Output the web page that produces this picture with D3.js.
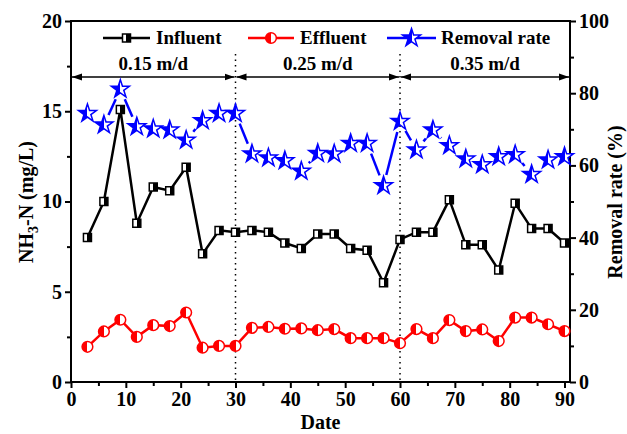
<!DOCTYPE html>
<html><head><meta charset="utf-8">
<script src="https://cdn.jsdelivr.net/npm/d3@7"></script>
<style>body{margin:0;background:#fff}svg{display:block}text{font-family:"Liberation Serif","Times New Roman",serif;font-weight:bold}</style>
</head><body><svg id="c" width="627" height="434"></svg>
<script>
const days = [3,6,9,12,15,18,21,24,27,30,33,36,39,42,45,48,51,54,57,60,63,66,69,72,75,78,81,84,87,90];
const influent = [8.0,10.0,15.1,8.8,10.8,10.6,11.9,7.1,8.4,8.3,8.4,8.3,7.7,7.4,8.2,8.2,7.4,7.3,5.5,7.9,8.3,8.3,10.1,7.6,7.6,6.2,9.9,8.5,8.5,7.7];
const effluent = [1.95,2.8,3.45,2.5,3.15,3.1,3.85,1.9,2.0,2.0,3.0,3.05,2.95,2.97,2.87,2.93,2.43,2.43,2.43,2.15,2.93,2.43,3.43,2.82,2.91,2.27,3.57,3.57,3.2,2.82];
const removal = [74.4,71.2,81.1,70.7,70.1,69.8,67.0,72.4,74.4,74.4,63.2,62.1,61.3,58.4,63.3,63.2,66.1,66.1,54.4,72.2,64.3,69.8,65.5,61.8,60.2,62.4,63.0,57.5,61.5,62.4];
const xTicks = [0,10,20,30,40,50,60,70,80,90];
const yTicks = [0,5,10,15,20];
const y2Ticks = [0,20,40,60,80,100];
const periods = [{a:0,b:30,label:"0.15 m/d"},{a:30,b:60,label:"0.25 m/d"},{a:60,b:91,label:"0.35 m/d"}];
const dividers = [30,60];

const svg = d3.select("#c");
const L=71,R=570,T=21,B=382;
const x = d3.scaleLinear().domain([0,91]).range([L,R]);
const y = d3.scaleLinear().domain([0,20]).range([B,T]);
const y2 = d3.scaleLinear().domain([0,100]).range([B,T]);

const defs = svg.append("defs");
function grad(id, left, right){
  const g = defs.append("linearGradient").attr("id",id).attr("x1",0).attr("x2",1).attr("y1",0).attr("y2",0);
  g.append("stop").attr("offset","50%").attr("stop-color",left);
  g.append("stop").attr("offset","50%").attr("stop-color",right);
}
grad("gSq","#fff","#000"); grad("gCi","#f00","#fff"); grad("gSt","#00f","#fff");
defs.append("marker").attr("id","arr").attr("viewBox","0 0 10 10").attr("refX",10).attr("refY",5)
  .attr("markerWidth",10).attr("markerHeight",10).attr("markerUnits","userSpaceOnUse").attr("orient","auto-start-reverse")
  .append("path").attr("d","M0,1.5L10,5L0,8.5Z").attr("fill","#000");

// frame
svg.append("rect").attr("x",L).attr("y",T).attr("width",R-L).attr("height",B-T).attr("fill","none").attr("stroke","#000").attr("stroke-width",2);

// axes
svg.append("g").attr("transform",`translate(0,${B})`)
  .call(d3.axisBottom(x).tickValues(xTicks).tickSize(6).tickPadding(4).tickFormat(d3.format("d")));
svg.append("g").attr("transform",`translate(0,${B})`).call(d3.axisBottom(x).tickValues(d3.range(5,91,10)).tickSize(4).tickFormat(""));
svg.append("g").attr("transform",`translate(${L},0)`).call(d3.axisLeft(y).tickValues(yTicks).tickSize(6).tickPadding(3));
svg.append("g").attr("transform",`translate(${L},0)`).call(d3.axisLeft(y).tickValues([2.5,7.5,12.5,17.5]).tickSize(4).tickFormat(""));
svg.append("g").attr("transform",`translate(${R},0)`).call(d3.axisRight(y2).tickValues(y2Ticks).tickSize(6).tickPadding(3));
svg.append("g").attr("transform",`translate(${R},0)`).call(d3.axisRight(y2).tickValues([10,30,50,70,90]).tickSize(4).tickFormat(""));
svg.selectAll(".domain").remove();
svg.selectAll(".tick line").attr("stroke","#000").attr("stroke-width",2);
svg.selectAll(".tick text").attr("fill","#000").style("font-size","20px").style("font-family","Liberation Serif").style("font-weight","bold");

// titles
svg.append("text").attr("x",(L+R)/2).attr("y",429).attr("text-anchor","middle").style("font-size","20px").text("Date");
const lt = svg.append("text").attr("transform","translate(33,202) rotate(-90)").attr("text-anchor","middle").style("font-size","20px");
lt.append("tspan").text("NH");
lt.append("tspan").attr("dy",5).style("font-size","14px").text("3");
lt.append("tspan").attr("dy",-5).text("-N (mg/L)");
svg.append("text").attr("transform","translate(622,202) rotate(-90)").attr("text-anchor","middle").style("font-size","20px").text("Removal rate (%)");

// dividers
dividers.forEach(d=>{
  svg.append("line").attr("x1",x(d)).attr("x2",x(d)).attr("y1",54).attr("y2",B).attr("stroke","#000").attr("stroke-width",1.5).attr("stroke-dasharray","1.5,4");
});
// period arrows
periods.forEach(p=>{
  svg.append("line").attr("x1",x(p.a)+1).attr("x2",Math.min(x(p.b),R)-1).attr("y1",77).attr("y2",77)
    .attr("stroke","#000").attr("stroke-width",1.5).attr("marker-start","url(#arr)").attr("marker-end","url(#arr)");
  svg.append("text").attr("x",(x(p.a)+Math.min(x(p.b),R))/2).attr("y",70).attr("text-anchor","middle").style("font-size","19px").text(p.label);
});

// series
const sq = d3.symbol().type(d3.symbolSquare).size(64);
const ci = d3.symbol().type(d3.symbolCircle).size(90);
const st = d3.symbol().type(d3.symbolStar).size(100);

function series(vals, ys, color, sym, fill, gap){
  const pts = days.map((d,i)=>[x(d), ys(vals[i])]);
  const g = svg.append("g");
  if(!gap){
    g.append("path").attr("d",d3.line()(pts)).attr("fill","none").attr("stroke",color).attr("stroke-width",2.5);
  } else {
    for(let i=0;i<pts.length-1;i++){
      const [x1,y1]=pts[i],[x2,y2_]=pts[i+1];
      const len=Math.hypot(x2-x1,y2_-y1); if(len<=2*gap) continue;
      const ux=(x2-x1)/len, uy=(y2_-y1)/len;
      g.append("line").attr("x1",x1+ux*gap).attr("y1",y1+uy*gap).attr("x2",x2-ux*gap).attr("y2",y2_-uy*gap)
        .attr("stroke",color).attr("stroke-width",2.5);
    }
  }
  g.selectAll("path.m").data(pts).join("path").attr("class","m").attr("d",sym)
    .attr("transform",d=>`translate(${d[0]},${d[1]})`).attr("fill",fill).attr("stroke",color).attr("stroke-width",1.5);
}
series(influent, y, "#000", sq, "url(#gSq)", 0);
series(effluent, y, "#f00", ci, "url(#gCi)", 0);
series(removal, y2, "#00f", st, "url(#gSt)", 11);

// legend
const leg = [{x1:103,x2:150,c:"#000",s:sq,f:"url(#gSq)",t:"Influent",tx:156},
             {x1:248,x2:294,c:"#f00",s:ci,f:"url(#gCi)",t:"Effluent",tx:300},
             {x1:387,x2:436,c:"#00f",s:st,f:"url(#gSt)",t:"Removal rate",tx:441}];
leg.forEach(l=>{
  const ly=38;
  svg.append("line").attr("x1",l.x1).attr("x2",l.x2).attr("y1",ly).attr("y2",ly).attr("stroke",l.c).attr("stroke-width",2.5);
  svg.append("path").attr("d",l.s).attr("transform",`translate(${(l.x1+l.x2)/2},${ly})`).attr("fill",l.f).attr("stroke",l.c).attr("stroke-width",1.5);
  svg.append("text").attr("x",l.tx).attr("y",ly+6).style("font-size","19px").text(l.t);
});
</script></body></html>
